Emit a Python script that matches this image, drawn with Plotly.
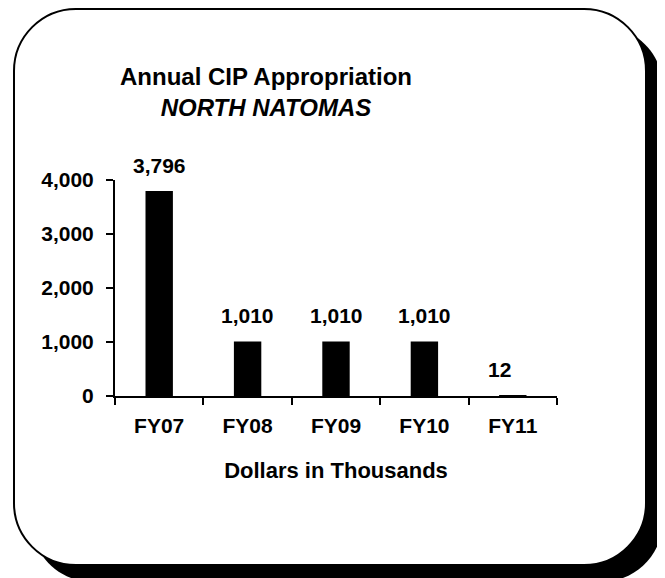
import plotly.graph_objects as go

# data
years = ['FY07', 'FY08', 'FY09', 'FY10', 'FY11']
appropriation = [3796, 1010, 1010, 1010, 12]
label_xshift = [0, 0, 0, 0, -13]
y_ticks = [0, 1000, 2000, 3000, 4000]

# the page adds an 8px body margin, so the figure is drawn 8px smaller
W, H = 657, 570
L, R, T, B = 107, 549, 172, 388
PW, PH = R - L, B - T
FONT = 'Liberation Sans, Arial, sans-serif'


def px(x):
    return (x - L) / PW


def py(y):
    return (B - y) / PH


def rounded_rect(x0, y0, x1, y1, r):
    """SVG path (paper coords) for a rounded rectangle given in pixels."""
    k = 0.5523 * r
    pts = [
        ('M', [(x0 + r, y0)]),
        ('L', [(x1 - r, y0)]),
        ('C', [(x1 - r + k, y0), (x1, y0 + r - k), (x1, y0 + r)]),
        ('L', [(x1, y1 - r)]),
        ('C', [(x1, y1 - r + k), (x1 - r + k, y1), (x1 - r, y1)]),
        ('L', [(x0 + r, y1)]),
        ('C', [(x0 + r - k, y1), (x0, y1 - r + k), (x0, y1 - r)]),
        ('L', [(x0, y0 + r)]),
        ('C', [(x0, y0 + r - k), (x0 + r - k, y0), (x0 + r, y0)]),
    ]
    out = []
    for cmd, ps in pts:
        out.append(cmd + ' ' + ' '.join(f'{px(a):.5f},{py(b):.5f}' for a, b in ps))
    return ' '.join(out) + ' Z'


fig = go.Figure()
fig.add_trace(go.Bar(x=years, y=appropriation, marker_color='black',
                     marker_line_width=0, hoverinfo='skip'))

# value labels above the bars
for yr, v, dx in zip(years, appropriation, label_xshift):
    fig.add_annotation(x=yr, y=v, text=f'{v:,}', showarrow=False,
                       yanchor='middle', yshift=26, xshift=dx,
                       font=dict(family=FONT, size=21, color='black', weight='bold'))

# card with drop shadow
fig.add_shape(type='path', xref='paper', yref='paper', layer='below',
              path=rounded_rect(23, 18, 655, 574, 62),
              fillcolor='black', line=dict(width=0))
fig.add_shape(type='path', xref='paper', yref='paper', layer='below',
              path=rounded_rect(6, 1, 638, 557, 62),
              fillcolor='white', line=dict(color='black', width=2))

fig.update_layout(
    width=W, height=H,
    margin=dict(l=L, r=W - R, t=T, b=H - B),
    paper_bgcolor='white', plot_bgcolor='rgba(0,0,0,0)',
    showlegend=False, bargap=0.69,
    font=dict(family=FONT, size=20, color='black', weight='bold'),
    title=dict(text='Annual CIP Appropriation<br><i>NORTH NATOMAS</i>',
               x=px(258), xref='paper', xanchor='center',
               y=1 - 77 / H, yref='container', yanchor='middle',
               font=dict(family=FONT, size=24, color='black', weight='bold')),
    xaxis=dict(showline=True, linecolor='black', linewidth=2, showgrid=False,
               ticks='outside', ticklen=7, tickwidth=2, tickcolor='black',
               tickson='boundaries', ticklabelstandoff=10,
               tickfont=dict(size=21, weight='bold'),
               title=dict(text='Dollars in Thousands', standoff=26,
                          font=dict(size=22, weight='bold'))),
    yaxis=dict(range=[0, 4000], tickvals=y_ticks, tickformat=',d',
               showline=True, linecolor='black', linewidth=2, showgrid=False,
               zeroline=False, ticks='outside', ticklen=7, tickwidth=2,
               tickcolor='black', ticklabelstandoff=8,
               tickfont=dict(size=21, weight='bold')),
)

fig.write_html('out.html')
